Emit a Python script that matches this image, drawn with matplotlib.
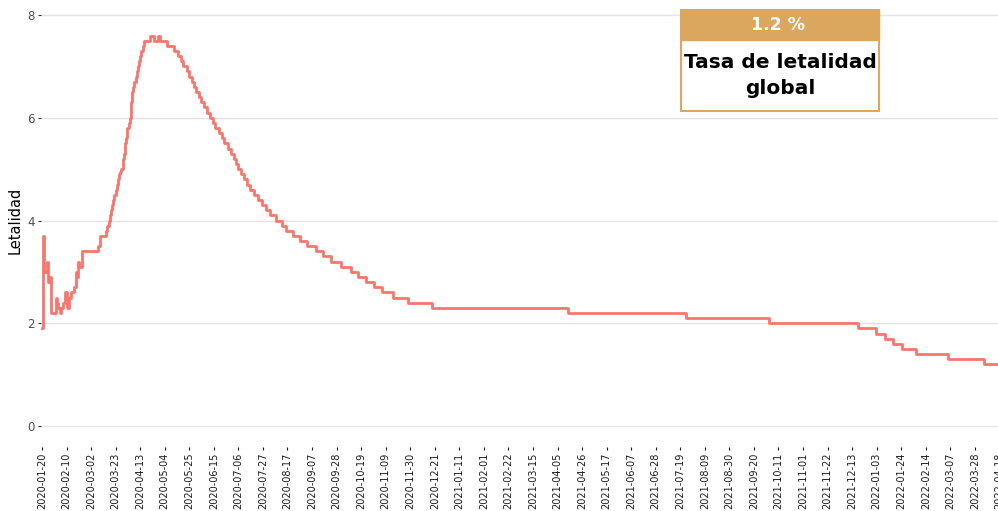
import pandas as pd
import matplotlib.pyplot as plt
import matplotlib.dates as mdates
from matplotlib.patches import Rectangle

# step changes of the fatality rate (value holds until next date)
fechas = [
    "2020-01-20", "2020-01-21", "2020-01-22", "2020-01-24", "2020-01-25", "2020-01-27",
    "2020-01-28", "2020-02-01", "2020-02-02", "2020-02-03", "2020-02-04", "2020-02-05",
    "2020-02-07", "2020-02-09", "2020-02-10", "2020-02-12", "2020-02-14", "2020-02-16",
    "2020-02-18", "2020-02-19", "2020-02-20", "2020-02-21", "2020-02-23", "2020-03-08",
    "2020-03-10", "2020-03-15", "2020-03-16", "2020-03-17", "2020-03-18", "2020-03-19",
    "2020-03-20", "2020-03-21", "2020-03-22", "2020-03-23", "2020-03-24", "2020-03-25",
    "2020-03-26", "2020-03-27", "2020-03-28", "2020-03-29", "2020-03-30", "2020-03-31",
    "2020-04-01", "2020-04-02", "2020-04-03", "2020-04-04", "2020-04-05", "2020-04-06",
    "2020-04-07", "2020-04-08", "2020-04-09", "2020-04-10", "2020-04-11", "2020-04-12",
    "2020-04-13", "2020-04-14", "2020-04-15", "2020-04-16",
    "2020-04-21", "2020-04-25", "2020-04-28", "2020-04-30", "2020-05-06", "2020-05-12",
    "2020-05-15", "2020-05-18", "2020-05-20", "2020-05-23", "2020-05-25", "2020-05-27",
    "2020-05-29", "2020-05-31", "2020-06-02", "2020-06-04", "2020-06-07", "2020-06-09",
    "2020-06-12", "2020-06-14", "2020-06-16", "2020-06-19", "2020-06-22", "2020-06-24",
    "2020-06-27", "2020-06-30", "2020-07-02", "2020-07-04", "2020-07-06", "2020-07-08",
    "2020-07-11", "2020-07-13", "2020-07-16", "2020-07-19", "2020-07-23", "2020-07-26",
    "2020-07-30", "2020-08-02", "2020-08-07", "2020-08-12", "2020-08-16", "2020-08-22",
    "2020-08-28", "2020-09-03", "2020-09-10", "2020-09-16", "2020-09-23", "2020-10-02",
    "2020-10-10", "2020-10-16", "2020-10-23", "2020-10-30", "2020-11-06", "2020-11-15",
    "2020-11-28", "2020-12-19", "2021-04-14", "2021-07-24", "2021-10-03", "2021-12-18",
    "2022-01-02", "2022-01-10", "2022-01-17", "2022-01-25", "2022-02-06", "2022-03-05",
    "2022-04-05", "2022-04-20",
]
letalidad = [
    1.9, 3.7, 3.0, 3.2, 2.8, 2.9,
    2.2, 2.5, 2.4, 2.3, 2.2, 2.3,
    2.4, 2.6, 2.3, 2.5, 2.6, 2.7,
    3.0, 2.9, 3.2, 3.1, 3.4, 3.5,
    3.7, 3.8, 3.9, 4.0, 4.1, 4.2,
    4.3, 4.4, 4.5, 4.6, 4.7, 4.8,
    4.9, 4.95, 5.0, 5.2, 5.3, 5.5,
    5.6, 5.8, 5.9, 6.0, 6.3, 6.5,
    6.6, 6.7, 6.8, 6.9, 7.0, 7.1,
    7.2, 7.3, 7.4, 7.5,
    7.6, 7.5, 7.6, 7.5, 7.4, 7.3,
    7.2, 7.1, 7.0, 6.9, 6.8, 6.7,
    6.6, 6.5, 6.4, 6.3, 6.2, 6.1,
    6.0, 5.9, 5.8, 5.7, 5.6, 5.5,
    5.4, 5.3, 5.2, 5.1, 5.0, 4.9,
    4.8, 4.7, 4.6, 4.5, 4.4, 4.3,
    4.2, 4.1, 4.0, 3.9, 3.8, 3.7,
    3.6, 3.5, 3.4, 3.3, 3.2, 3.1,
    3.0, 2.9, 2.8, 2.7, 2.6, 2.5,
    2.4, 2.3, 2.2, 2.1, 2.0, 1.9,
    1.8, 1.7, 1.6, 1.5, 1.4, 1.3,
    1.2, 1.2,
]
tasa_global = "1.2 %"

x = pd.to_datetime(fechas)
ticks = pd.date_range("2020-01-20", "2022-04-18", freq="21D")

fig = plt.figure(figsize=(9.98, 5.11), dpi=100)
ax = fig.add_axes([41 / 998, 1 - 446.6 / 511, (1000 - 41) / 998, 452.2 / 511])

ax.plot(x, letalidad, drawstyle="steps-post", color="#F8766D", lw=2.0)

ax.set_ylim(-0.4, 8.4)
ax.set_yticks([0, 2, 4, 6, 8])
ax.set_xlim(pd.Timestamp("2020-01-20") - pd.Timedelta(days=0.85),
            pd.Timestamp("2020-01-20") + pd.Timedelta(days=819.5))
ax.set_xticks(ticks)
ax.xaxis.set_major_formatter(mdates.DateFormatter("%Y-%m-%d"))
ax.tick_params(axis="x", labelrotation=90, labelsize=7, colors="#1A1A1A",
               length=2.5, width=0.8, pad=2)
ax.tick_params(axis="y", labelsize=8.5, labelcolor="#4D4D4D", color="#333333",
               length=2.5, width=0.8, pad=2)

ax.grid(axis="y", color="#E3E3E3", lw=1.0)
ax.grid(axis="x", visible=False)
ax.set_axisbelow(True)
for s in ax.spines.values():
    s.set_visible(False)
ax.set_ylabel("Letalidad", fontsize=10.5, color="black", labelpad=3)

# summary box
W, H = 998, 511
fig.patches.append(Rectangle((681 / W, 1 - 111 / H), 198 / W, 101 / H,
                             transform=fig.transFigure, facecolor="white",
                             edgecolor="#DDA75F", lw=1.5, zorder=5))
fig.patches.append(Rectangle((681 / W, 1 - 40 / H), 198 / W, 30 / H,
                             transform=fig.transFigure, facecolor="#DBA65E",
                             edgecolor="#DBA65E", lw=1.0, zorder=6))
fig.text(778 / W, 1 - 25 / H, tasa_global, ha="center", va="center",
         fontsize=12.5, fontweight="bold", color="white", family="DejaVu Sans", zorder=7)
fig.text(780 / W, 1 - 62 / H, "Tasa de letalidad", ha="center", va="center",
         fontsize=14.5, fontweight="bold", color="black", family="DejaVu Sans", zorder=7)
fig.text(780 / W, 1 - 88 / H, "global", ha="center", va="center",
         fontsize=14.5, fontweight="bold", color="black", family="DejaVu Sans", zorder=7)

fig.savefig("out.png", dpi=100)
